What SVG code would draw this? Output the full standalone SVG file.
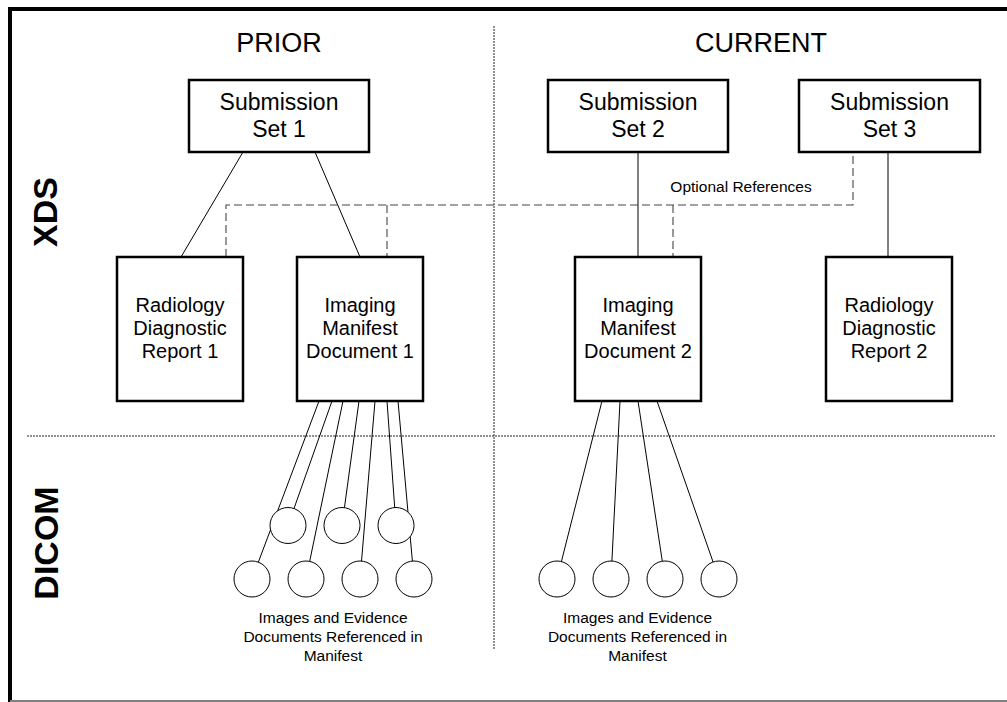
<svg xmlns="http://www.w3.org/2000/svg" width="1007" height="702" viewBox="0 0 1007 702">
<style>
text{font-family:"Liberation Sans",Arial,sans-serif;fill:#000;text-anchor:middle}
.box{fill:#fff;stroke:#000;stroke-width:2.5}
.big{font-size:27px}
.sub{font-size:23px}
.doc{font-size:20px}
.small{font-size:15.5px}
.side{font-size:34px;font-weight:bold}
.ln{stroke:#000;stroke-width:1;fill:none}
.opt{stroke:#444;stroke-width:1.1;stroke-dasharray:8,4;fill:none}
.div{stroke:#222;stroke-width:1;stroke-dasharray:2,1;fill:none}
.circ{fill:#fff;stroke:#000;stroke-width:1}
</style>
<rect width="1007" height="702" fill="#fff"/>
<g id="frame">
<line x1="8" y1="9" x2="1007" y2="9" stroke="#000" stroke-width="4"/>
<line x1="10" y1="7" x2="10" y2="702" stroke="#000" stroke-width="4"/>
<line x1="10" y1="701" x2="1007" y2="701" stroke="#808080" stroke-width="2"/>
</g>
<g id="dividers">
<line class="div" x1="494" y1="26" x2="494" y2="650"/>
<line class="div" x1="27" y1="436" x2="996" y2="436"/>
</g>
<g id="labels">
<text class="big" x="279" y="52">PRIOR</text>
<text class="big" x="761" y="52">CURRENT</text>
<text class="side" transform="translate(57,212) rotate(-90)">XDS</text>
<text class="side" transform="translate(58,543) rotate(-90)">DICOM</text>
</g>
<g id="connectors">
<line class="ln" x1="243" y1="152" x2="181" y2="257"/>
<line class="ln" x1="315" y1="152" x2="360" y2="257"/>
<line class="ln" x1="638" y1="152" x2="638" y2="257"/>
<line class="ln" x1="888" y1="152" x2="888" y2="257"/>
<path class="opt" d="M226,257 V205 H853 V152 M387,205 V257 M673,205 V257"/>
<line class="ln" x1="319" y1="401" x2="252" y2="579"/>
<line class="ln" x1="332" y1="401" x2="288" y2="525.5"/>
<line class="ln" x1="343" y1="401" x2="306" y2="579"/>
<line class="ln" x1="359" y1="401" x2="342" y2="525.5"/>
<line class="ln" x1="375" y1="401" x2="360" y2="579"/>
<line class="ln" x1="387" y1="401" x2="396" y2="525.5"/>
<line class="ln" x1="398" y1="401" x2="414" y2="579"/>
<line class="ln" x1="602" y1="401" x2="557" y2="579"/>
<line class="ln" x1="620" y1="401" x2="611" y2="579"/>
<line class="ln" x1="638" y1="401" x2="665" y2="579"/>
<line class="ln" x1="657" y1="401" x2="719" y2="579"/>
<text class="small" x="741" y="192">Optional References</text>
</g>
<g id="ss1"><rect class="box" x="189" y="80" width="180" height="72"/><text class="sub" x="279" y="110">Submission</text><text class="sub" x="279" y="137">Set 1</text></g>
<g id="ss2"><rect class="box" x="548" y="80" width="180" height="72"/><text class="sub" x="638" y="110">Submission</text><text class="sub" x="638" y="137">Set 2</text></g>
<g id="ss3"><rect class="box" x="799" y="80" width="181" height="72"/><text class="sub" x="889.5" y="110">Submission</text><text class="sub" x="889.5" y="137">Set 3</text></g>
<g id="rdr1"><rect class="box" x="117" y="257" width="126" height="144"/><text class="doc" x="180" y="312">Radiology</text><text class="doc" x="180" y="335">Diagnostic</text><text class="doc" x="180" y="358">Report 1</text></g>
<g id="imd1"><rect class="box" x="297" y="257" width="126" height="144"/><text class="doc" x="360" y="312">Imaging</text><text class="doc" x="360" y="335">Manifest</text><text class="doc" x="360" y="358">Document 1</text></g>
<g id="imd2"><rect class="box" x="575" y="257" width="126" height="144"/><text class="doc" x="638" y="312">Imaging</text><text class="doc" x="638" y="335">Manifest</text><text class="doc" x="638" y="358">Document 2</text></g>
<g id="rdr2"><rect class="box" x="826" y="257" width="126" height="144"/><text class="doc" x="889" y="312">Radiology</text><text class="doc" x="889" y="335">Diagnostic</text><text class="doc" x="889" y="358">Report 2</text></g>
<g id="images1">
<circle class="circ" cx="288" cy="525.5" r="18"/>
<circle class="circ" cx="342" cy="525.5" r="18"/>
<circle class="circ" cx="396" cy="525.5" r="18"/>
<circle class="circ" cx="252" cy="579" r="18"/>
<circle class="circ" cx="306" cy="579" r="18"/>
<circle class="circ" cx="360" cy="579" r="18"/>
<circle class="circ" cx="414" cy="579" r="18"/>
<text class="small" x="333" y="623">Images and Evidence</text>
<text class="small" x="333" y="642">Documents Referenced in</text>
<text class="small" x="333" y="661">Manifest</text>
</g>
<g id="images2">
<circle class="circ" cx="557" cy="579" r="18"/>
<circle class="circ" cx="611" cy="579" r="18"/>
<circle class="circ" cx="665" cy="579" r="18"/>
<circle class="circ" cx="719" cy="579" r="18"/>
<text class="small" x="637.5" y="623">Images and Evidence</text>
<text class="small" x="637.5" y="642">Documents Referenced in</text>
<text class="small" x="637.5" y="661">Manifest</text>
</g>
</svg>
